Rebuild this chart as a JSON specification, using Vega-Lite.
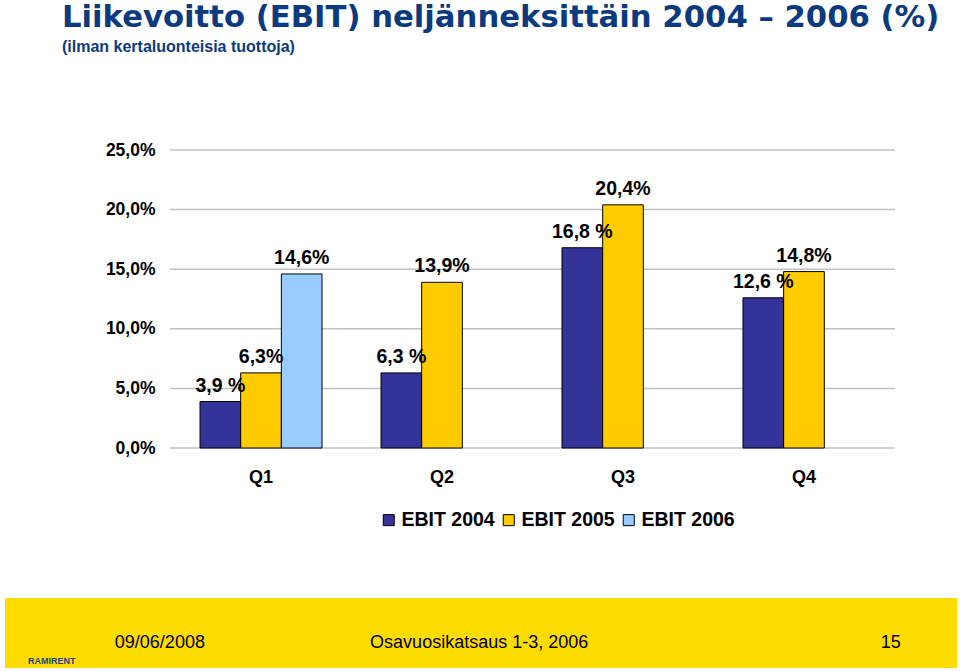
{
  "$schema": "https://vega.github.io/schema/vega-lite/v6.json",
  "padding": {"left": 5, "top": 2, "right": 3, "bottom": 1},
  "background": "white",
  "title": {
    "text": "Liikevoitto (EBIT) neljänneksittäin 2004 – 2006 (%)",
    "subtitle": "(ilman kertaluonteisia tuottoja)",
    "anchor": "start",
    "frame": "group",
    "dx": 57,
    "font": "DejaVu Sans",
    "fontSize": 30.7,
    "fontWeight": "bold",
    "color": "#0B3A7E",
    "subtitleFont": "Liberation Sans",
    "subtitleFontSize": 16,
    "subtitleFontWeight": "bold",
    "subtitleColor": "#0B3A7E",
    "subtitlePadding": 5,
    "offset": 85
  },
  "config": {"view": {"stroke": null}, "font": "Liberation Sans"},
  "spacing": 112,
  "vconcat": [
    {
      "width": 952,
      "height": 298,
      "encoding": {
        "x": {
          "field": "quarter", "type": "nominal", "sort": ["Q1", "Q2", "Q3", "Q4"],
          "scale": {"domain": ["Q1", "Q2", "Q3", "Q4"], "paddingInner": 0.326, "paddingOuter": 0.793, "align": 0.6794},
          "axis": {"title": null, "labelAngle": 0, "ticks": false, "domain": false, "grid": false, "labelPadding": 20, "labelFontSize": 18, "labelFontWeight": "bold", "labelColor": "black", "labelFont": "Liberation Sans"}
        },
        "y": {
          "field": "value", "type": "quantitative",
          "scale": {"domain": [0, 25], "nice": false},
          "axis": {
            "values": [0, 5, 10, 15, 20, 25],
            "title": null, "offset": -165, "grid": false,
            "domain": false, "ticks": false, "labelPadding": 15,
            "labelFont": "Liberation Sans", "labelFontSize": 17.5, "labelFontWeight": "bold", "labelColor": "black",
            "labelExpr": "replace(format(datum.value, '.1f'), '.', ',') + '%'"
          }
        }
      },
      "layer": [
        {
          "data": {"values": [{"value": 0}, {"value": 5}, {"value": 10}, {"value": 15}, {"value": 20}, {"value": 25}]},
          "mark": {"type": "rule", "color": "#c0c0c0", "strokeWidth": 1.5},
          "encoding": {
            "x": {"datum": "Q1", "type": "nominal", "bandPosition": -0.2459},
            "x2": {"datum": "Q4", "bandPosition": 1.2459}
          }
        },
        {
          "data": {"name": "ebit"},
          "mark": {"type": "bar", "stroke": "black", "strokeWidth": 1},
          "encoding": {
            "xOffset": {
              "field": "series", "type": "nominal",
              "scale": {"domain": ["EBIT 2004", "EBIT 2005", "EBIT 2006"], "paddingInner": 0, "paddingOuter": 0}
            },
            "color": {
              "field": "series", "type": "nominal",
              "scale": {"domain": ["EBIT 2004", "EBIT 2005", "EBIT 2006"], "range": ["#333399", "#FFCC00", "#99CCFF"]},
              "legend": {
                "orient": "none", "legendX": 374, "legendY": 360, "direction": "horizontal",
                "title": null, "symbolType": "square", "symbolSize": 121,
                "symbolStrokeColor": "black", "symbolStrokeWidth": 1, "symbolOpacity": 1,
                "labelFont": "Liberation Sans", "labelFontSize": 19.5, "labelFontWeight": "bold", "labelColor": "black",
                "columnPadding": 4, "labelOffset": 3
              }
            }
          }
        },
        {
          "data": {"name": "ebit"},
          "mark": {"type": "text", "dy": -10, "baseline": "alphabetic", "font": "Liberation Sans", "fontSize": 19.5, "fontWeight": "bold", "color": "black"},
          "encoding": {
            "xOffset": {"field": "series", "type": "nominal"},
            "text": {"field": "label"}
          }
        }
      ]
    },
    {
      "width": 952,
      "height": 70,
      "view": {"fill": "#FFDC00", "stroke": null},
      "layer": [
        {
          "data": {"values": [
            {"slot": "date", "text": "09/06/2008"},
            {"slot": "title", "text": "Osavuosikatsaus 1-3, 2006"},
            {"slot": "page", "text": "15"}
          ]},
          "mark": {"type": "text", "align": "left", "baseline": "middle", "dy": 10, "font": "Liberation Sans", "fontSize": 18, "color": "black"},
          "encoding": {
            "x": {"field": "slot", "type": "ordinal", "scale": {"type": "point", "domain": ["date", "title", "gap", "page"], "padding": 0.3646, "align": 0.59}, "axis": null},
            "text": {"field": "text"}
          }
        },
        {
          "data": {"values": [{"slot": "date", "text": "RAMIRENT"}]},
          "mark": {"type": "text", "align": "center", "baseline": "middle", "dx": -63, "dy": 28, "font": "Liberation Sans", "fontSize": 9, "fontWeight": "bold", "color": "#1F3C88"},
          "encoding": {
            "x": {"field": "slot", "type": "ordinal", "scale": {"type": "point", "domain": ["date", "title", "gap", "page"], "padding": 0.3646, "align": 0.59}, "axis": null},
            "text": {"field": "text"}
          }
        }
      ]
    }
  ],
  "datasets": {
    "ebit": [
      {"quarter": "Q1", "series": "EBIT 2004", "value": 3.9, "label": "3,9 %"},
      {"quarter": "Q1", "series": "EBIT 2005", "value": 6.3, "label": "6,3%"},
      {"quarter": "Q1", "series": "EBIT 2006", "value": 14.6, "label": "14,6%"},
      {"quarter": "Q2", "series": "EBIT 2004", "value": 6.3, "label": "6,3 %"},
      {"quarter": "Q2", "series": "EBIT 2005", "value": 13.9, "label": "13,9%"},
      {"quarter": "Q3", "series": "EBIT 2004", "value": 16.8, "label": "16,8 %"},
      {"quarter": "Q3", "series": "EBIT 2005", "value": 20.4, "label": "20,4%"},
      {"quarter": "Q4", "series": "EBIT 2004", "value": 12.6, "label": "12,6 %"},
      {"quarter": "Q4", "series": "EBIT 2005", "value": 14.8, "label": "14,8%"}
    ]
  }
}
